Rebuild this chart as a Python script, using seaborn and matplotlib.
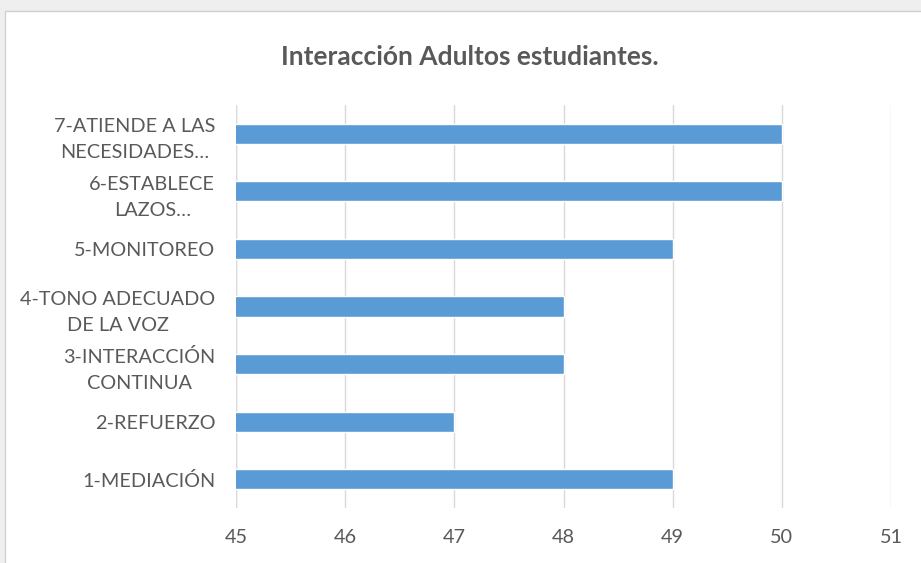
import matplotlib
matplotlib.use("Agg")
import matplotlib.pyplot as plt
import seaborn as sns
import pandas as pd
from matplotlib.patches import Rectangle

categories = [
    "7-ATIENDE A LAS\nNECESIDADES…",
    "6-ESTABLECE\nLAZOS…",
    "5-MONITOREO",
    "4-TONO ADECUADO\nDE LA VOZ",
    "3-INTERACCIÓN\nCONTINUA",
    "2-REFUERZO",
    "1-MEDIACIÓN",
]
values = [50, 50, 49, 48, 48, 47, 49]
x_ticks = [45, 46, 47, 48, 49, 50, 51]
title = "Interacción Adultos estudiantes."

sns.set_theme(style="white")
plt.rcParams["font.family"] = ["Lato", "DejaVu Sans"]

text_color = "#595959"
bar_color = "#5B9BD5"
grid_color = "#D9D9D9"

fig = plt.figure(figsize=(9.21, 5.63), dpi=100, facecolor="#EFEFEF")
fig.patches.append(Rectangle((5 / 921, -0.01), 1.0, 552 / 563 + 0.01,
                             transform=fig.transFigure, facecolor="white",
                             edgecolor="#D0D0D0", linewidth=1.0, zorder=-5))

ax = fig.add_axes([236 / 921, 55 / 563, 655 / 921, 403 / 563])
ax.set_zorder(2)
ax.set_facecolor("none")

df = pd.DataFrame({"cat": categories, "val": values})
sns.barplot(data=df, x="val", y="cat", orient="h", color=bar_color,
            width=0.35, saturation=1, ax=ax, zorder=3)

ax.set_xlim(45, 51)
ax.set_ylim(6.5, -0.5)
ax.set_xticks(x_ticks)
ax.set_xticklabels([str(t) for t in x_ticks])
ax.xaxis.grid(True, color=grid_color, linewidth=1.0, zorder=0)
ax.yaxis.grid(False)
for s in ax.spines.values():
    s.set_visible(False)
ax.axvline(45, color=grid_color, linewidth=1.0, zorder=1)
ax.tick_params(axis="both", length=0, colors=text_color, labelsize=14.3)
ax.tick_params(axis="x", pad=15)
ax.tick_params(axis="y", pad=15)
for lbl in ax.get_yticklabels():
    lbl.set_multialignment("center")
    lbl.set_linespacing(1.65)
ax.set_xlabel("")
ax.set_ylabel("")

fig.text(470 / 921, 1 - 57 / 563, title, ha="center", va="center",
         fontsize=19, fontweight="bold", color=text_color, zorder=5)

fig.savefig("out.png", dpi=100, facecolor=fig.get_facecolor())
